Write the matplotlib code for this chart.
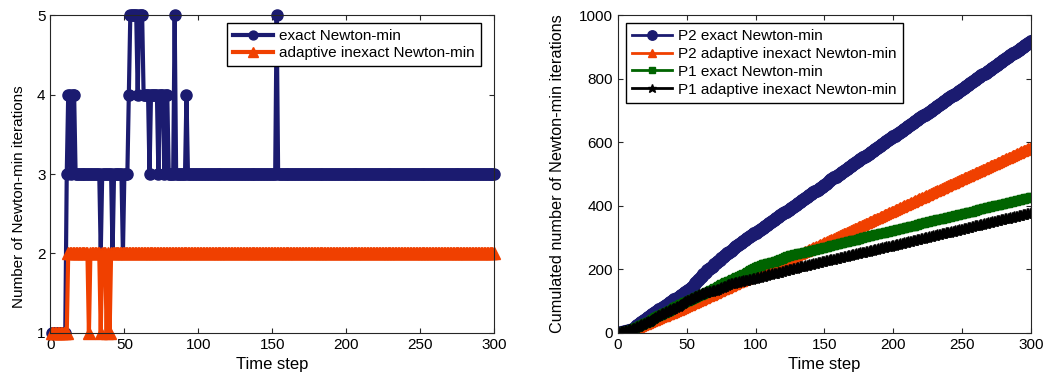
import numpy as np
import matplotlib
matplotlib.use('Agg')
import matplotlib.pyplot as plt

plt.rcParams['font.family'] = ['Liberation Sans', 'DejaVu Sans']

# time steps
steps = np.arange(1, 301)

# P2 exact Newton-min: iterations per step (run-length: values, lengths)
p2_exact_vals = [1, 3, 4, 3, 4, 3, 2, 3, 2, 3, 2, 3, 4, 5, 4, 5, 4, 3, 4, 3, 4, 3, 4, 3, 5, 3, 4, 3, 5, 3]
p2_exact_lens = [10, 1, 2, 1, 2, 17, 1, 7, 1, 6, 1, 3, 1, 5, 1, 3, 4, 1, 5, 1, 3, 1, 2, 4, 1, 7, 1, 60, 1, 147]

# P2 adaptive inexact Newton-min
p2_adapt_vals = [1, 2, 1, 2, 1, 2, 1, 2, 1, 2]
p2_adapt_lens = [11, 14, 1, 7, 1, 3, 1, 1, 1, 260]

# P1 exact Newton-min
p1_exact_vals = [1, 2, 2, 3, 2, 3, 2, 2, 3, 2, 3, 2, 1, 2, 1, 1, 2, 1, 2, 1, 2, 1, 2, 1, 2]
p1_exact_lens = [8, 2, 12, 4, 12, 4, 8, 20, 3, 20, 3, 9, 10, 8, 9, 20, 2, 20, 2, 40, 2, 40, 2, 38, 2]

# P1 adaptive inexact Newton-min
p1_adapt_vals = [1, 2, 3, 2, 3, 2, 1, 2, 1, 1, 2, 1, 2, 1, 2, 1, 1, 2, 1, 2, 1, 2]
p1_adapt_lens = [10, 15, 5, 15, 5, 12, 10, 9, 15, 12, 1, 11, 1, 10, 1, 44, 40, 1, 40, 1, 41, 1]

p2_exact = np.repeat(p2_exact_vals, p2_exact_lens)
p2_adapt = np.repeat(p2_adapt_vals, p2_adapt_lens)
p1_exact = np.repeat(p1_exact_vals, p1_exact_lens)
p1_adapt = np.repeat(p1_adapt_vals, p1_adapt_lens)

navy = '#1b1b70'
orange = '#f04000'
green = '#006400'
black = '#000000'
axcol = '#262626'

fig = plt.figure(figsize=(10.43, 3.8), dpi=100)
ax1 = fig.add_axes([0.0484, 0.1237, 0.4252, 0.8368])
ax2 = fig.add_axes([0.5925, 0.1237, 0.396, 0.8368])

ax1.plot(steps, p2_exact, '-o', color=navy, lw=3, ms=8, label='exact Newton-min', clip_on=False)
ax1.plot(steps, p2_adapt, '-^', color=orange, lw=3, ms=8.5, label='adaptive inexact Newton-min', clip_on=False)
ax1.set_xlim(0, 300)
ax1.set_ylim(1, 5)
ax1.set_yticks([1, 2, 3, 4, 5])
ax1.set_xlabel('Time step', fontsize=12)
ax1.set_ylabel('Number of Newton-min iterations', fontsize=11)
ax1.yaxis.set_label_coords(-0.055, 0.43)
ax1.legend(loc='upper right', bbox_to_anchor=(0.97, 0.975), fontsize=11, fancybox=False,
           edgecolor='black', framealpha=1, borderpad=0.4, handlelength=2.6, handletextpad=0.4,
           labelspacing=0.2, borderaxespad=0, markerscale=0.8)

ax2.plot(steps, np.cumsum(p2_exact), '-o', color=navy, lw=2, ms=8.5, label='P2 exact Newton-min')
ax2.plot(steps, np.cumsum(p2_adapt), '-^', color=orange, lw=2, ms=7.5, label='P2 adaptive inexact Newton-min')
ax2.plot(steps, np.cumsum(p1_exact), '-s', color=green, lw=2, ms=5.5, label='P1 exact Newton-min')
ax2.plot(steps, np.cumsum(p1_adapt), '-*', color=black, lw=2, ms=8, label='P1 adaptive inexact Newton-min')
ax2.set_xlim(0, 300)
ax2.set_ylim(0, 1000)
ax2.set_yticks(np.arange(0, 1001, 200))
ax2.set_xlabel('Time step', fontsize=12)
ax2.set_ylabel('Cumulated number of Newton-min iterations', fontsize=11.7)
ax2.yaxis.set_label_coords(-0.128, 0.5)
ax2.legend(loc='upper left', bbox_to_anchor=(0.02, 0.975), fontsize=11, fancybox=False,
           edgecolor='black', framealpha=1, borderpad=0.4, handlelength=2.6, handletextpad=0.4,
           labelspacing=0.25, borderaxespad=0, markerscale=0.8)

for ax in (ax1, ax2):
    ax.set_xticks(np.arange(0, 301, 50))
    ax.tick_params(direction='in', top=True, right=True, labelsize=11, colors=axcol, labelcolor='black')
    for s in ax.spines.values():
        s.set_color(axcol)

fig.savefig('out.png', dpi=100)
